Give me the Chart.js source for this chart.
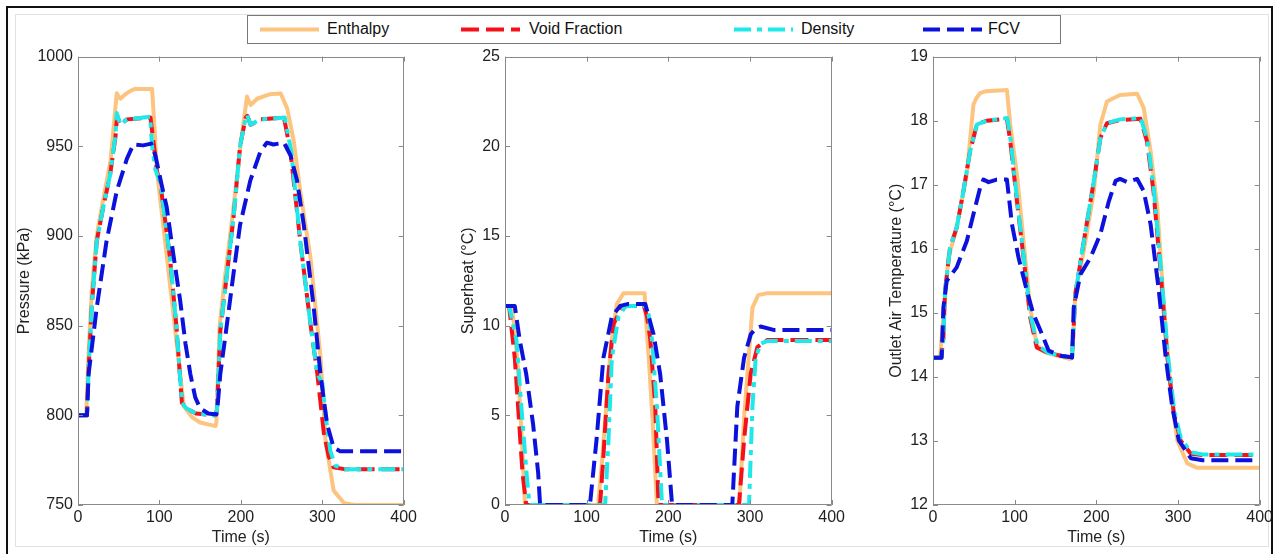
<!DOCTYPE html>
<html>
<head>
  <title>Pressure, superheat and outlet air temperature</title>
  <script src="https://cdn.jsdelivr.net/npm/chart.js@4"></script>
  <style>
    body {
      margin: 0;
      background: #fff;
      overflow: hidden;
      font-family: "Liberation Sans", Arial, sans-serif;
    }

    #frame {
      position: absolute;
      left: 6px;
      top: 6px;
      width: 1263px;
      height: 560px;
      border: 2px solid #111;
      z-index: 5;
      pointer-events: none;
    }

    #inner {
      position: absolute;
      left: 15px;
      top: 14px;
      width: 1252px;
      height: 531px;
      border: 1px solid #e2e2e2;
    }

    canvas {
      position: absolute;
    }

    #legend {
      position: absolute;
      left: 247px;
      top: 15px;
      width: 812px;
      height: 27px;
      border: 1px solid #777;
      background: #fff;
      z-index: 3;
    }

    .item {
      position: absolute;
      top: 3px;
      font-size: 16px;
      color: #111;
      line-height: 20px;
    }

    .item svg {
      position: absolute;
      top: 0;
    }
  </style>
</head>
<body>
  <div id="inner"></div>
  <div id="legend"></div>
  <canvas id="pressChart" width="405" height="505" style="left:15px;top:42px"></canvas>
  <canvas id="superChart" width="389" height="505" style="left:459px;top:42px"></canvas>
  <canvas id="outletChart" width="389" height="505" style="left:887px;top:42px"></canvas>
  <div id="frame"></div>

  <script>
    // series names and x ticks
    const seriesNames = ["Enthalpy", "Void Fraction", "Density", "FCV"];
    const timeTicks = [0, 100, 200, 300, 400];

    // Pressure (kPa)
    const presEnthT = [0, 10, 13, 17, 23, 30, 40, 47.6, 50, 52, 58, 65, 70, 91, 94, 97, 105, 115, 125, 130, 140, 150, 169, 170, 174, 180, 190, 200, 207.6, 210, 212, 220, 235, 249, 257, 265, 273, 285.5, 298, 304, 314, 327, 340, 400];
    const presEnthV = [800, 800, 835, 870, 900, 918, 942, 979.6, 977.5, 976.5, 979, 981, 982, 982, 960, 936, 905, 865, 825, 805, 799, 796, 794, 796, 850, 875, 912, 952, 977.8, 975, 973, 976.5, 979, 979.4, 971, 953, 925, 888, 832, 786, 758, 751, 750, 750];
    const presVoidT = [0, 11, 13, 16.8, 23, 31, 39.4, 46, 48, 52, 60, 89, 92, 97, 101, 113, 121, 127.6, 133, 145, 168, 170.7, 174.8, 183, 191, 199, 206, 208, 212, 224, 253, 261, 273, 285.5, 294, 302, 308, 314, 327, 400];
    const presVoidV = [800, 800, 825, 860, 897, 916, 934, 955, 967, 962, 965, 966, 955, 936, 930, 888, 849, 807, 804, 801, 800, 803, 847, 879, 910, 950, 966, 967, 962, 965, 966, 947, 897, 851, 823, 790, 777, 771, 770, 770];
    const presDensT = [0, 11, 13, 16.8, 23, 31, 39.4, 46, 47.6, 52, 60, 88.6, 91, 95, 101, 113, 121, 127.6, 133, 145, 168, 170.7, 174.8, 183, 191, 199, 206, 207.6, 212, 224, 254, 262, 273, 285.5, 294, 300, 304, 310, 316, 327, 400];
    const presDensV = [800, 800, 825, 860, 897, 916, 934, 956, 968.5, 962, 965, 966.5, 950, 937, 930, 888, 849, 807, 804, 801, 800, 803, 847, 879, 910, 950, 966, 967.5, 962, 965, 966, 947, 897, 851, 823, 818, 800, 780, 772, 770, 770];
    const presFcvT = [0, 11, 13, 23, 35, 47.6, 60, 68, 80, 90, 95, 102, 109, 117, 125.5, 132, 138, 144, 150, 160, 170, 172, 174.8, 183, 191, 199, 211.7, 224, 232, 240, 253, 261, 269, 277.4, 289.6, 297.8, 306, 314, 322, 400];
    const presFcvV = [800, 800, 823, 860, 897, 925, 943, 951, 950.5, 951.5, 945, 930, 916, 890, 864, 840, 823, 810, 804, 801, 800.5, 808, 823, 851, 879, 906, 931, 947, 952, 951, 952, 945, 931, 906, 860, 823, 795, 782, 780, 780];

    // Superheat (°C)
    const shEnthT = [0, 8, 12, 16, 20, 24.5, 114, 119, 124, 130, 137, 145, 171, 172.5, 177, 181, 186, 287, 290, 293, 299, 303, 310, 320, 400];
    const shEnthV = [11.1, 11.1, 9.8, 7.5, 4.2, 0, 0, 2.5, 5.5, 9, 11.2, 11.8, 11.8, 10.5, 7.5, 4.5, 0, 0, 2.5, 5, 8.6, 11, 11.7, 11.8, 11.8];
    const shVoidT = [0, 5, 12, 16, 21.4, 26, 116.4, 120.5, 126.7, 133, 143, 150, 170, 174, 178, 184, 188, 286.5, 292.7, 300.8, 309, 321, 400];
    const shVoidV = [11.1, 11.1, 8.2, 5.5, 1.8, 0, 0, 2.7, 7.3, 10.1, 11, 11.1, 11.1, 10.5, 9.2, 5.5, 0, 0, 3.6, 7.3, 8.8, 9.2, 9.2];
    const shDensT = [0, 5, 14, 20, 26.3, 30, 122.6, 126.7, 130.8, 139, 148, 172, 176, 180, 186, 192.3, 298.8, 303, 307, 313, 322, 400];
    const shDensV = [11.1, 11.1, 9.2, 5.5, 1.8, 0, 0, 3.6, 8.2, 10.5, 11.1, 11.1, 10.6, 9.2, 5.5, 0, 0, 5.5, 8.2, 9.0, 9.15, 9.15];
    const shFcvT = [0, 12, 18, 26, 34.4, 40.6, 43, 104, 112, 120.5, 130.8, 141, 150, 171.8, 182, 190, 198.4, 204.6, 278.3, 284.5, 292.7, 300.8, 307, 313, 330, 400];
    const shFcvV = [11.1, 11.1, 9.2, 7.3, 4.5, 1.8, 0, 0, 3.6, 8.2, 10.5, 11.1, 11.2, 11.2, 9.5, 7.3, 3.6, 0, 0, 5.5, 8.2, 9.5, 9.85, 9.95, 9.75, 9.75];

    // Outlet air temperature (°C)
    const otEnthT = [0, 8.6, 12.7, 18.8, 29, 41.4, 49.5, 53, 57.7, 65, 90.5, 94.6, 102.8, 110.9, 119, 127, 135, 143.7, 168, 170.3, 174.4, 184.7, 197, 205, 213, 229, 250, 258, 266.5, 274.7, 282.9, 291, 299, 311.4, 323.7, 400];
    const otEnthV = [14.3, 14.3, 14.93, 15.86, 16.33, 17.16, 18.25, 18.35, 18.43, 18.46, 18.48, 17.94, 17.16, 16.12, 15.08, 14.5, 14.4, 14.36, 14.28, 14.3, 15.34, 15.97, 16.9, 17.94, 18.3, 18.4, 18.42, 18.2, 17.52, 16.64, 15.08, 13.79, 13.01, 12.65, 12.58, 12.58];
    const otVoidT = [0, 10, 12.7, 14.7, 20.9, 29, 37.2, 45.4, 53.7, 66, 90.5, 94.6, 102.8, 110.9, 119, 127, 139.6, 164, 170.3, 174.4, 184.7, 197, 205, 213, 229, 254, 262, 270, 279, 287, 295, 303, 315.7, 330, 400];
    const otVoidV = [14.3, 14.3, 14.6, 15.34, 16.02, 16.33, 16.9, 17.52, 17.94, 18.0, 18.03, 17.68, 16.74, 15.86, 14.93, 14.46, 14.38, 14.31, 14.31, 15.3, 16.12, 17.06, 17.73, 17.96, 18.01, 18.03, 17.68, 16.9, 15.6, 14.31, 13.43, 13.01, 12.8, 12.78, 12.78];
    const otDensT = [0, 10, 12.7, 14.7, 20.9, 29, 37.2, 45.4, 53.7, 66, 91, 95, 103, 111, 119.5, 128, 140, 164, 170.3, 174.4, 184.7, 197, 205, 213, 229, 254.5, 262.5, 270.5, 279.5, 287.5, 295.5, 303.5, 316, 330, 400];
    const otDensV = [14.3, 14.3, 14.6, 15.34, 16.02, 16.33, 16.9, 17.52, 17.94, 18.0, 18.04, 17.7, 16.76, 15.88, 14.95, 14.5, 14.38, 14.31, 14.31, 15.3, 16.12, 17.06, 17.73, 17.96, 18.02, 18.04, 17.7, 16.92, 15.62, 14.35, 13.46, 13.04, 12.82, 12.79, 12.79];
    const otFcvT = [0, 10.6, 12.7, 16.8, 29, 41.4, 49.5, 57.7, 61.8, 68, 78, 90.5, 96.7, 104.8, 115, 123, 133.4, 141.6, 156, 168, 170.3, 172.3, 180.5, 192.8, 205, 215.3, 223.6, 229, 238, 250, 258, 266.5, 276.6, 284.9, 293, 301, 315.7, 330, 400];
    const otFcvV = [14.3, 14.3, 15.08, 15.5, 15.71, 16.12, 16.54, 16.95, 17.08, 17.04, 17.08, 17.08, 16.38, 15.86, 15.34, 14.98, 14.67, 14.41, 14.33, 14.31, 14.3, 15.08, 15.6, 15.86, 16.23, 16.74, 17.06, 17.09, 17.04, 17.09, 16.9, 16.38, 15.34, 14.31, 13.53, 13.01, 12.73, 12.7, 12.7];

    // line styles, same order as seriesNames
    const styles = [
      { color: "#fdc47f", dash: [], order: 4 },
      { color: "#f5101a", dash: [18, 7], order: 3 },
      { color: "#1ee8e8", dash: [17, 6, 5, 6], order: 2 },
      { color: "#0c12dc", dash: [17, 7], order: 1 }
    ];

    function zip(ts, vs) {
      return ts.map((t, i) => ({ x: t, y: vs[i] }));
    }

    // box round the plot with inward ticks, MATLAB style
    const boxPlugin = {
      id: "matlabBox",
      afterDatasetsDraw(chart) {
        const { ctx, chartArea: a, scales } = chart;
        const x = scales.x, y = scales.y;
        ctx.save();
        ctx.strokeStyle = "#8a8a8a";
        ctx.lineWidth = 1;
        ctx.beginPath();
        ctx.rect(Math.round(a.left) + 0.5, Math.round(a.top) + 0.5, Math.round(a.width) - 1, Math.round(a.height) - 1);
        x.ticks.forEach(t => {
          const px = Math.round(x.getPixelForValue(t.value)) + 0.5;
          ctx.moveTo(px, a.bottom); ctx.lineTo(px, a.bottom - 5);
          ctx.moveTo(px, a.top); ctx.lineTo(px, a.top + 5);
        });
        y.ticks.forEach(t => {
          const py = Math.round(y.getPixelForValue(t.value)) + 0.5;
          ctx.moveTo(a.left, py); ctx.lineTo(a.left + 5, py);
          ctx.moveTo(a.right, py); ctx.lineTo(a.right - 5, py);
        });
        ctx.stroke();
        ctx.restore();
      }
    };

    const tickFont = { family: "'Liberation Sans', Arial, sans-serif", size: 16 };

    function makeChart(id, series, yMin, yMax, yStep, yTitle, yWidth) {
      new Chart(document.getElementById(id), {
        type: "line",
        data: {
          datasets: series.map((s, i) => ({
            label: seriesNames[i],
            data: zip(s[0], s[1]),
            borderColor: styles[i].color,
            borderDash: styles[i].dash,
            borderWidth: 4,
            borderCapStyle: "butt",
            borderJoinStyle: "round",
            pointRadius: 0,
            tension: 0,
            fill: false,
            clip: 0,
            order: styles[i].order
          }))
        },
        options: {
          responsive: false,
          animation: false,
          devicePixelRatio: 1,
          layout: { padding: { top: 10, right: 14, left: 0, bottom: 0 } },
          plugins: { legend: { display: false }, tooltip: { enabled: false } },
          scales: {
            x: {
              type: "linear",
              min: 0,
              max: 400,
              afterBuildTicks: s => { s.ticks = timeTicks.map(v => ({ value: v })); },
              ticks: { color: "#222", font: tickFont, padding: 3, maxRotation: 0, callback: v => String(v) },
              grid: { display: false, drawTicks: false },
              border: { display: false },
              title: { display: true, text: "Time (s)", color: "#222", font: tickFont, padding: 0 },
              afterFit: s => { s.height = 42; }
            },
            y: {
              min: yMin,
              max: yMax,
              ticks: { stepSize: yStep, color: "#222", font: tickFont, padding: 5, callback: v => String(v) },
              grid: { display: false, drawTicks: false },
              border: { display: false },
              title: { display: true, text: yTitle, color: "#222", font: tickFont, padding: 0 },
              afterFit: s => { s.width = yWidth; }
            }
          }
        },
        plugins: [boxPlugin]
      });
    }

    makeChart("pressChart", [[presEnthT, presEnthV], [presVoidT, presVoidV], [presDensT, presDensV], [presFcvT, presFcvV]],
      750, 1000, 50, "Pressure (kPa)", 63);
    makeChart("superChart", [[shEnthT, shEnthV], [shVoidT, shVoidV], [shDensT, shDensV], [shFcvT, shFcvV]],
      0, 25, 5, "Superheat (°C)", 46);
    makeChart("outletChart", [[otEnthT, otEnthV], [otVoidT, otVoidV], [otDensT, otDensV], [otFcvT, otFcvV]],
      12, 19, 1, "Outlet Air Temperature (°C)", 46);

    // legend above the plots
    const legendX = [[12, 79], [213, 281], [486, 553], [675, 740]];
    const legend = document.getElementById("legend");
    seriesNames.forEach((name, i) => {
      const item = document.createElement("div");
      item.className = "item";
      item.style.left = legendX[i][0] + "px";
      const dash = styles[i].dash.join(" ");
      item.innerHTML = `<svg width="60" height="20"><line x1="0" y1="10.5" x2="59" y2="10.5" stroke="${styles[i].color}" stroke-width="4" stroke-dasharray="${dash}"/></svg>` +
        `<span style="position:absolute;left:${legendX[i][1] - legendX[i][0]}px;white-space:nowrap">${name}</span>`;
      legend.appendChild(item);
    });
  </script>
</body>
</html>
